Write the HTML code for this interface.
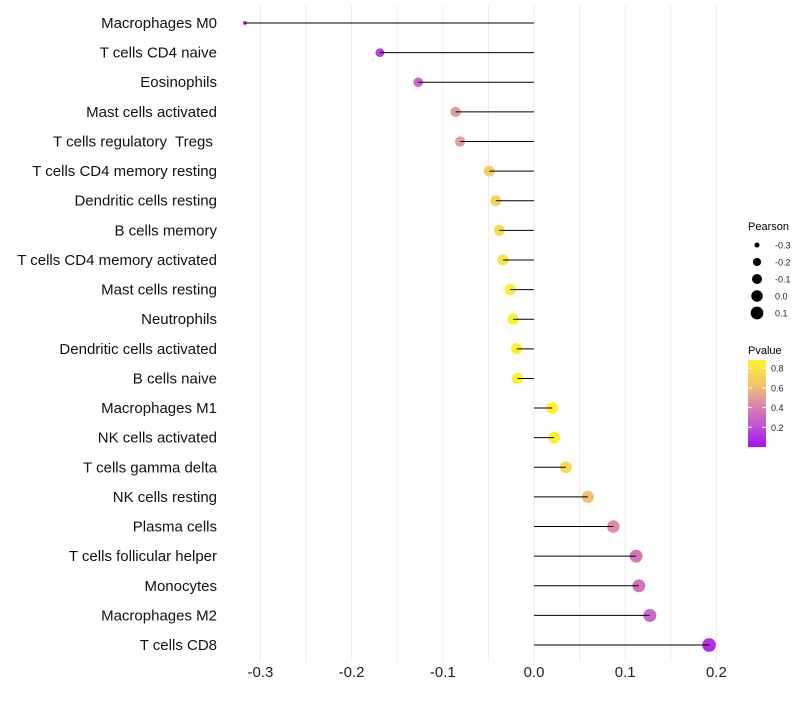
<!DOCTYPE html>
<html><head><meta charset="utf-8">
<style>
body{margin:0;background:#fff;font-family:"Liberation Sans",sans-serif;}
svg text{font-family:"Liberation Sans",sans-serif;white-space:pre;}
</style></head>
<body>
<svg id="chart" width="800" height="700"></svg>
<script>
const categories=["Macrophages M0","T cells CD4 naive","Eosinophils","Mast cells activated","T cells regulatory  Tregs ","T cells CD4 memory resting","Dendritic cells resting","B cells memory","T cells CD4 memory activated","Mast cells resting","Neutrophils","Dendritic cells activated","B cells naive","Macrophages M1","NK cells activated","T cells gamma delta","NK cells resting","Plasma cells","T cells follicular helper","Monocytes","Macrophages M2","T cells CD8"];
const pearson=[-0.317,-0.169,-0.127,-0.086,-0.081,-0.049,-0.042,-0.038,-0.034,-0.026,-0.023,-0.019,-0.018,0.020,0.022,0.035,0.059,0.087,0.112,0.115,0.127,0.192];
const pvalue=[0.03,0.15,0.3,0.48,0.5,0.68,0.72,0.76,0.8,0.85,0.87,0.9,0.9,0.88,0.87,0.76,0.62,0.45,0.36,0.34,0.3,0.1];
const xTicks=[-0.3,-0.2,-0.1,0.0,0.1,0.2];
const xTickLabels=["-0.3","-0.2","-0.1","0.0","0.1","0.2"];
const sizeLegend=[-0.3,-0.2,-0.1,0.0,0.1];
const sizeLegendLabels=["-0.3","-0.2","-0.1","0.0","0.1"];
const pTicks=[0.2,0.4,0.6,0.8];

const NS="http://www.w3.org/2000/svg";
const svg=document.getElementById('chart');
function x(v){return 534+v*912;}
function y(i){return 23+i*29.62;}
function r(p){return 1.5+7.5*Math.sqrt(Math.max(0,p+0.32));}
const stops=[[0,[160,16,240]],[0.2,[192,80,216]],[0.4,[216,128,176]],[0.6,[240,190,120]],[0.88,[255,242,42]]];
function col(p){
  p=Math.max(0,Math.min(0.88,p));
  for(let k=0;k<stops.length-1;k++){
    const a=stops[k],b=stops[k+1];
    if(p<=b[0]){const t=(p-a[0])/(b[0]-a[0]);
      return 'rgb('+a[1].map((c,j)=>Math.round(c+(b[1][j]-c)*t)).join(',')+')';}
  }
  return 'rgb(255,242,42)';
}
function el(tag,attrs,parent){const e=document.createElementNS(NS,tag);for(const k in attrs)e.setAttribute(k,attrs[k]);(parent||svg).appendChild(e);return e;}

for(let v=-0.3;v<=0.2001;v+=0.05){
  const g=el('line',{x1:x(v),x2:x(v),y1:5,y2:662,stroke:'#ebebeb','stroke-width':1});
  
  
}
xTicks.forEach((v,i)=>{
  const t=el('text',{x:x(v),y:677,'text-anchor':'middle','font-size':15,fill:'#222'});
  t.textContent=xTickLabels[i];
  
  
});
categories.forEach((c,i)=>{
  const t=el('text',{x:217,y:y(i)+5,'text-anchor':'end','font-size':15,fill:'#111'});
  t.textContent=c;
  
  
  const d=el('circle',{cx:x(pearson[i]),cy:y(i),r:r(pearson[i]),fill:col(pvalue[i])});
  
  
  const s=el('line',{x1:x(pearson[i]),x2:x(0),y1:y(i),y2:y(i),stroke:'#000','stroke-width':1});
  
  
});

const lt=el('text',{x:748,y:230,'font-size':11,fill:'#000'});lt.textContent='Pearson';


sizeLegend.forEach((v,i)=>{
  const cy=245+i*17;
  const c=el('circle',{cx:757,cy:cy,r:r(v),fill:'#000'});
  
  
  const t=el('text',{x:775,y:cy+3.5,'font-size':9,fill:'#222'});t.textContent=sizeLegendLabels[i];
  
  
});
const pt=el('text',{x:748,y:354,'font-size':11,fill:'#000'});pt.textContent='Pvalue';


const defs=el('defs',{});
const lg=el('linearGradient',{id:'pg',x1:0,y1:1,x2:0,y2:0},defs);
stops.forEach(s=>el('stop',{offset:s[0]/0.88,'stop-color':'rgb('+s[1].join(',')+')'},lg));
const bar=el('rect',{x:748,y:360,width:18,height:87,fill:'url(#pg)'});


function py(p){return 447-p*98.5;}
pTicks.forEach(p=>{
  el('line',{x1:748,x2:752,y1:py(p),y2:py(p),stroke:'#fff','stroke-width':1});
  el('line',{x1:762,x2:766,y1:py(p),y2:py(p),stroke:'#fff','stroke-width':1});
  const t=el('text',{x:771,y:py(p)+3.5,'font-size':9,fill:'#222'});t.textContent=p.toFixed(1);
  
  
});
</script>
</body></html>
